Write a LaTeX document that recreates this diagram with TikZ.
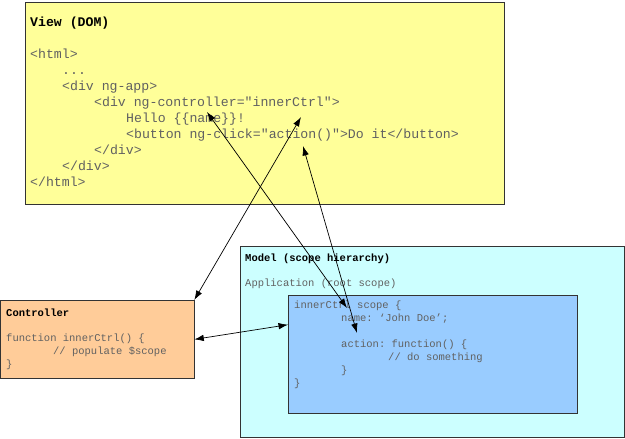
\documentclass[tikz,border=0pt]{standalone}
\usepackage{fontspec}
\setmonofont{Liberation Mono}
\usetikzlibrary{arrows.meta, positioning, calc}

\definecolor{viewfill}{HTML}{FFFF99}
\definecolor{modelfill}{HTML}{CCFFFF}
\definecolor{scopefill}{HTML}{99CCFF}
\definecolor{ctrlfill}{HTML}{FFCC99}

\begin{document}
\begin{tikzpicture}[x=1pt, y=-1pt, >={Latex[length=9.5pt,width=6.5pt]},
    panel/.style={draw=black!80, line width=0.8pt, rectangle, anchor=north west, inner sep=0pt},
    big/.style={font=\ttfamily\fontsize{13.2}{16}\selectfont},
    small/.style={font=\ttfamily\fontsize{10.5}{13}\selectfont},
    code/.style={anchor=base west, align=left, inner sep=0pt, text=black!62}]
    \useasboundingbox (0,0) rectangle (625,439);

    % the three parts
    \node [panel, fill=viewfill, minimum width=479pt, minimum height=202pt] (view) at (25,2) {};
    \node [panel, fill=modelfill, minimum width=384pt, minimum height=191pt] (model) at (240,246) {};
    \node [panel, fill=scopefill, minimum width=289pt, minimum height=118pt] (scope) at (288,295) {};
    \node [panel, fill=ctrlfill, minimum width=193pt, minimum height=78pt] (ctrl) at (0.5,300) {};

    % view (code nodes sit on the baseline of their last line)
    \node [code, big, text=black] (viewtitle) at (30,26.5) {\bfseries View (DOM)};
    \node [code, big] (viewcode) at (30,186.5) {<html>\\
        \hspace*{32pt}...\\
        \hspace*{32pt}<div ng-app>\\
        \hspace*{64pt}<div ng-controller="innerCtrl">\\
        \hspace*{96pt}Hello \{\{name\}\}!\\
        \hspace*{96pt}<button ng-click="action()">Do it</button>\\
        \hspace*{64pt}</div>\\
        \hspace*{32pt}</div>\\
        </html>};

    % model
    \node [code, small, text=black] (modeltitle) at (245,261) {\bfseries Model (scope hierarchy)};
    \node [code, small] (rootscope) at (245,286) {Application (root scope)};
    \node [code, small] (scopecode) at (294,386.5) {innerCtrl scope \{\\
        \hspace*{47pt}name: ‘John Doe’;\\[13pt]
        \hspace*{47pt}action: function() \{\\
        \hspace*{94pt}// do something\\
        \hspace*{47pt}\}\\
        \}};

    % controller
    \node [code, small, text=black] (ctrltitle) at (6,316) {\bfseries Controller};
    \node [code, small] (ctrlcode) at (6,367) {function innerCtrl() \{\\
        \hspace*{47pt}// populate \$scope\\
        \}};

    \coordinate (helloRef) at (207,112);
    \coordinate (innerRef) at (301,117);
    \coordinate (clickRef) at (303,146);
    \coordinate (nameDef) at (347,308);
    \coordinate (actionDef) at (357,333);

    \draw [<->, line width=0.7pt] (helloRef) -- (nameDef);
    \draw [<->, line width=0.7pt] (innerRef) -- (ctrl.north east);
    \draw [<->, line width=0.7pt] (clickRef) -- (actionDef);
    \draw [<->, line width=0.7pt] (ctrl.east) -- ($(scope.north west)!0.25!(scope.south west)$);
\end{tikzpicture}
\end{document}
